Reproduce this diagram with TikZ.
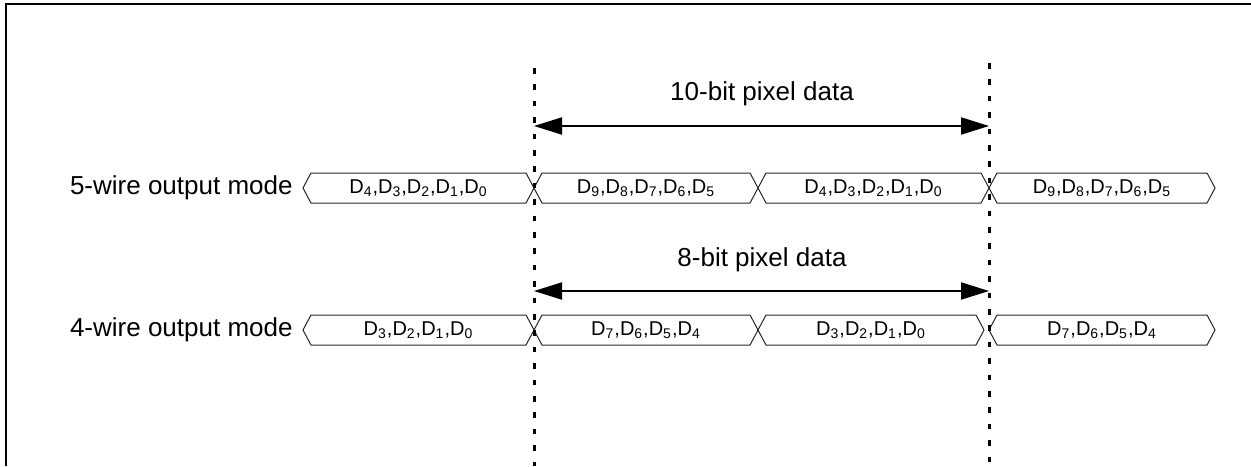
\documentclass[tikz,border=0pt]{standalone}
\usepackage{fontspec}
\setmainfont{Liberation Sans}
\usetikzlibrary{positioning, arrows.meta, shapes.symbols}

\begin{document}
\begin{tikzpicture}[
    x=0.5pt, y=-0.5pt,
    frame/.style={draw, line width=1pt},
    guide/.style={draw, line width=1.5pt, dash pattern=on 2.75pt off 5.45pt},
    line/.style={draw, line width=1pt, {Triangle[length=14pt, width=8.5pt]}-{Triangle[length=14pt, width=8.5pt]}},
    bus/.style={signal, signal to=east and west, signal pointer angle=124, draw=black!85, line width=0.5pt, minimum height=15pt, inner sep=0pt, font=\fontsize{10pt}{12pt}\selectfont},
    mode/.style={anchor=east, inner sep=0pt, font=\fontsize{13pt}{15pt}\selectfont},
    caption/.style={inner sep=0pt, font=\fontsize{13pt}{15pt}\selectfont}
    ]
    \useasboundingbox (0,0) rectangle (1251,466);

    \draw[frame] (6,466) -- (6,4) -- (1251,4);

    \node[mode] (five) at (293,188) {5-wire output mode};
    \node[mode] (four) at (293,330) {4-wire output mode};

    \node[bus, minimum width=115.5pt] (fa) at (418.5,188) {D\textsubscript{4},D\textsubscript{3},D\textsubscript{2},D\textsubscript{1},D\textsubscript{0}};
    \node[bus, minimum width=112pt] (fb) at (646,188) {D\textsubscript{9},D\textsubscript{8},D\textsubscript{7},D\textsubscript{6},D\textsubscript{5}};
    \node[bus, minimum width=115.5pt] (fc) at (873.5,188) {D\textsubscript{4},D\textsubscript{3},D\textsubscript{2},D\textsubscript{1},D\textsubscript{0}};
    \node[bus, minimum width=113pt] (fd) at (1102,188) {D\textsubscript{9},D\textsubscript{8},D\textsubscript{7},D\textsubscript{6},D\textsubscript{5}};

    \node[bus, minimum width=115.5pt] (ga) at (418.5,330) {D\textsubscript{3},D\textsubscript{2},D\textsubscript{1},D\textsubscript{0}};
    \node[bus, minimum width=112pt] (gb) at (646,330) {D\textsubscript{7},D\textsubscript{6},D\textsubscript{5},D\textsubscript{4}};
    \node[bus, minimum width=113pt] (gc) at (871,330) {D\textsubscript{3},D\textsubscript{2},D\textsubscript{1},D\textsubscript{0}};
    \node[bus, minimum width=113pt] (gd) at (1102,330) {D\textsubscript{7},D\textsubscript{6},D\textsubscript{5},D\textsubscript{4}};

    \coordinate (g1top) at (534,68);
    \coordinate (g1bot) at (534,466);
    \coordinate (g2top) at (989,63);
    \coordinate (g2bot) at (989,466);
    \draw[guide] (g1top) -- (g1bot);
    \draw[guide] (g2top) -- (g2bot);

    \node[caption] (ten) at (762,94) {10-bit pixel data};
    \coordinate (tenl) at (534,126);
    \coordinate (tenr) at (989,126);
    \draw[line] (tenl) -- (tenr);

    \node[caption] (eight) at (762,260) {8-bit pixel data};
    \coordinate (eightl) at (534,291);
    \coordinate (eightr) at (989,291);
    \draw[line] (eightl) -- (eightr);

  \end{tikzpicture}
\end{document}
